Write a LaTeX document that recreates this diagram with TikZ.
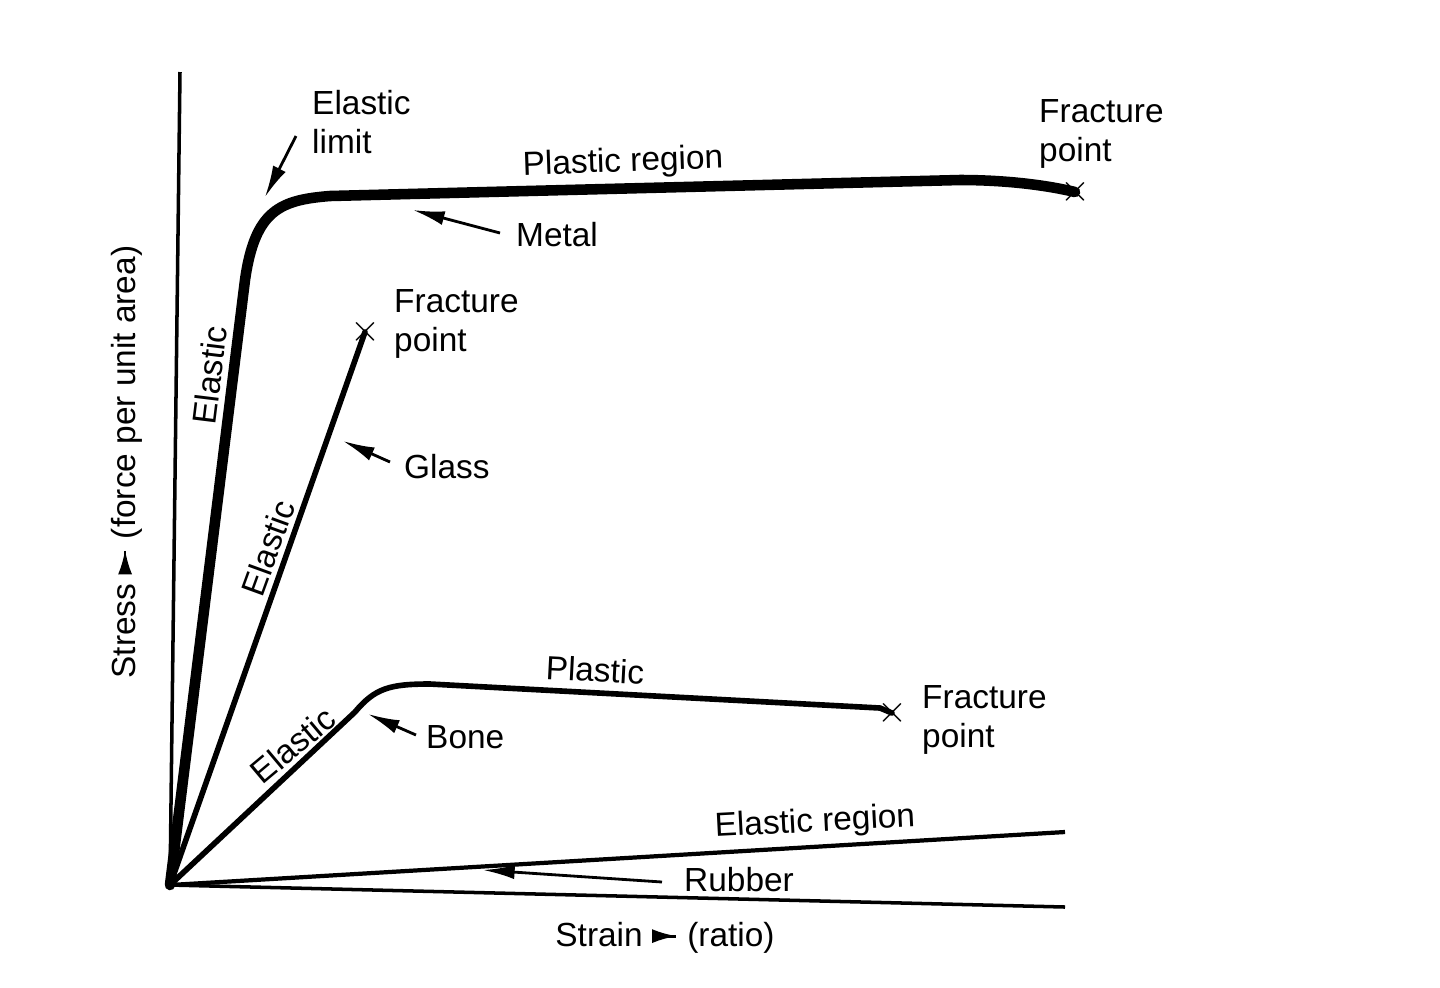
\documentclass[tikz,border=0pt]{standalone}
\usepackage{fontspec}
\setmainfont{Liberation Sans}
\usetikzlibrary{arrows.meta}
\begin{document}
\begin{tikzpicture}[x=0.01cm,y=-0.01cm,
  lbl/.style={font=\fontsize{9.5}{11}\selectfont,inner sep=1pt},
  lbl2/.style={font=\fontsize{9.5}{11}\selectfont,inner sep=1pt,align=left},
  ptr/.style={-{Latex[length=9pt,width=4pt]},line width=0.8pt},
  curve/.style={line width=1.6pt,line cap=round,line join=round},
  xmark/.style={font=\fontsize{11}{11}\selectfont,inner sep=0pt}]
\useasboundingbox (0,0) rectangle (1440,987);
\fill[white] (0,0) rectangle (1440,987);
% axes
\coordinate (O) at (170,885);
\coordinate (ytop) at (180,72);
\coordinate (xend) at (1065,907);
\draw[line width=1pt] (ytop) -- (O) -- (xend);
% metal
\coordinate (mf) at (1075,192);
\draw[curve,line width=3pt] (O) -- (245,280) .. controls (255,210) and (280,200) .. (330,196) -- (960,180) .. controls (1010,180) and (1050,186) .. (mf);
\node[xmark] (mx) at (mf) {$\times$};
% glass
\coordinate (gf) at (365,332);
\draw[curve] (O) -- (gf);
\node[xmark] (gx) at (gf) {$\times$};
% bone
\coordinate (bf) at (892,713);
\draw[curve] (O) -- (355,712) .. controls (375,688) and (390,684) .. (430,684) -- (880,708) -- (bf);
\node[xmark] (bx) at (bf) {$\times$};
% rubber
\coordinate (re) at (1065,832);
\draw[line width=1.2pt] (O) -- (re);
% labels
\node[lbl2,anchor=west] (el) at (308,122) {Elastic\\limit};
\coordinate (elt) at (265,197);
\draw[ptr] (296,136) -- (elt);
\node[lbl,rotate=2] (pr) at (623,163) {Plastic region};
\node[lbl2,anchor=west] (fp1) at (1035,134) {Fracture\\point};
\node[lbl,anchor=west] (metal) at (512,235) {Metal};
\coordinate (mt) at (413,210);
\draw[ptr] (500,233) -- (mt);
\node[lbl,rotate=83] (e1) at (210,375) {Elastic};
\node[lbl2,anchor=west] (fp2) at (390,324) {Fracture\\point};
\node[lbl,anchor=west] (glass) at (400,467) {Glass};
\coordinate (gt) at (343,441);
\draw[ptr] (390,462) -- (gt);
\node[lbl,rotate=70] (e2) at (268,548) {Elastic};
\node[lbl,rotate=-3] (pl) at (595,670) {Plastic};
\node[lbl2,anchor=west] (fp3) at (918,720) {Fracture\\point};
\node[lbl,anchor=west] (bone) at (422,737) {Bone};
\coordinate (bt) at (368,714);
\draw[ptr] (416,735) -- (bt);
\node[lbl,rotate=40] (e3) at (293,745) {Elastic};
\node[lbl,rotate=3] (er) at (815,823) {Elastic region};
\node[lbl,anchor=west] (rub) at (680,880) {Rubber};
\coordinate (rt) at (483,870);
\draw[ptr] (662,882) -- (rt);
\node[lbl,rotate=90] (ylab) at (127,462) {Stress \tikz[baseline=-3pt]\draw[-{Latex[length=7pt,width=4pt]},line width=0.8pt] (0,0) -- (1.1,0); (force per unit area)};
\node[lbl] (xlab) at (665,938) {Strain \tikz[baseline=-3pt]\draw[-{Latex[length=7pt,width=4pt]},line width=0.8pt] (0,0) -- (0.95,0); (ratio)};
\end{tikzpicture}
\end{document}
